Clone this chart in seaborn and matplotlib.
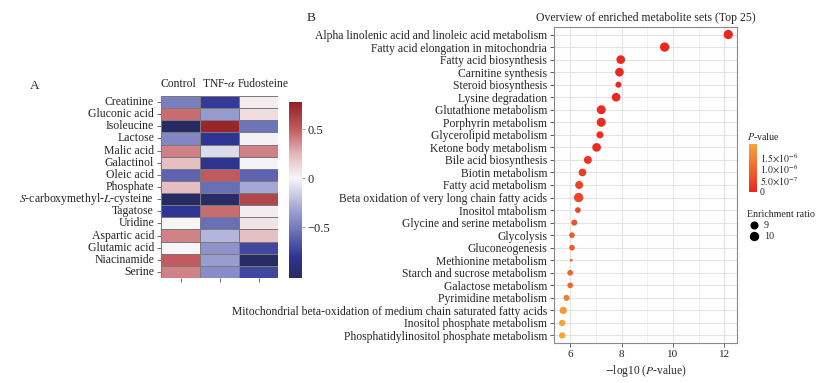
import numpy as np
import pandas as pd
import matplotlib as mpl
import matplotlib.pyplot as plt
import seaborn as sns
from matplotlib.colors import LinearSegmentedColormap, Normalize
from matplotlib.lines import Line2D
from matplotlib.transforms import ScaledTranslation

sns.set_style("white")
plt.rcParams['font.family'] = ['Liberation Serif', 'DejaVu Serif']
plt.rcParams['mathtext.fontset'] = 'stix'
mpl.rcParams['axes.unicode_minus'] = True

# ---- panel A data ----
metabolites = ["Creatinine", "Gluconic acid", "Isoleucine", "Lactose", "Malic acid",
               "Galactinol", "Oleic acid", "Phosphate", "$S$-carboxymethyl-$L$-cysteine",
               "Tagatose", "Uridine", "Aspartic acid", "Glutamic acid", "Niacinamide", "Serine"]
groups = ["Control", r"TNF-$\alpha$", "Fudosteine"]
control = [-0.48, 0.45, -1.00, -0.45, 0.40, 0.22, -0.60, 0.23, -1.00, -0.80, 0.00, 0.40, 0.00, 0.50, 0.40]
tnf = [-0.78, -0.36, 0.75, -0.80, -0.10, -0.82, 0.50, -0.55, -0.98, 0.45, -0.55, -0.25, -0.40, -0.35, -0.42]
fudo = [0.04, 0.10, -0.53, -0.02, 0.40, -0.01, -0.60, -0.30, 0.60, 0.04, 0.07, 0.22, -0.72, -1.00, -0.72]

# ---- panel B data ----
pathways = ["Alpha linolenic acid and linoleic acid metabolism", "Fatty acid elongation in mitochondria",
            "Fatty acid biosynthesis", "Carnitine synthesis", "Steroid biosynthesis", "Lysine degradation",
            "Glutathione metabolism", "Porphyrin metabolism", "Glycerolipid metabolism",
            "Ketone body metabolism", "Bile acid biosynthesis", "Biotin metabolism",
            "Fatty acid metabolism", "Beta oxidation of very long chain fatty acids", "Inositol mtabolism",
            "Glycine and serine metabolism", "Glycolysis", "Gluconeogenesis", "Methionine metabolism",
            "Starch and sucrose metabolism", "Galactose metabolism", "Pyrimidine metabolism",
            "Mitochondrial beta-oxidation of medium chain saturated fatty acids",
            "Inositol phosphate metabolism", "Phosphatidylinositol phosphate metabolism"]
neglogp = [12.16, 9.68, 7.97, 7.92, 7.88, 7.79, 7.21, 7.21, 7.16, 7.03, 6.69, 6.48, 6.35,
           6.33, 6.30, 6.16, 6.07, 6.07, 6.04, 6.00, 6.00, 5.86, 5.73, 5.69, 5.69]
ratio = [11.2, 11.2, 10.6, 10.6, 8.6, 10.6, 10.9, 10.9, 9.3, 10.6, 10.0, 9.8, 10.0,
         11.2, 8.4, 8.6, 8.4, 8.4, 7.1, 8.4, 8.4, 8.6, 9.5, 8.8, 8.8]
size_breaks = [9, 10]
p_ticks = [0, 5e-7, 1e-6, 1.5e-6]
p_ticklabels = ["0", r"$5.0{\times}10^{-7}$", r"$1.0{\times}10^{-6}$", r"$1.5{\times}10^{-6}$"]

fig = plt.figure(figsize=(8.4, 3.83), dpi=100)

# ================= A: heatmap =================
heat = pd.DataFrame({g: v for g, v in zip(groups, [control, tnf, fudo])}, index=metabolites)
vmin, vmax = -1.02, 0.78
cmap_nodes = [(-1.02, "#272a5e"), (-0.8, "#2e3594"), (-0.55, "#6a70b8"), (-0.3, "#a5a8d4"),
              (0.0, "#f8f6f8"), (0.25, "#e4b8bb"), (0.5, "#c25c61"), (0.78, "#932025")]
heat_cmap = LinearSegmentedColormap.from_list(
    "navy_red", [((v - vmin) / (vmax - vmin), c) for v, c in cmap_nodes])
ax_h = fig.add_axes([161 / 840, 1 - 278 / 383, 117 / 840, 182 / 383])
cax_h = fig.add_axes([289 / 840, 1 - 278 / 383, 13 / 840, 176 / 383])
sns.heatmap(heat, ax=ax_h, cbar_ax=cax_h, cmap=heat_cmap, vmin=vmin, vmax=vmax,
            linewidths=0.5, linecolor="#7a7a7a", xticklabels=True, yticklabels=True)
ax_h.tick_params(axis="x", bottom=True, top=False, labelbottom=False, labeltop=True,
                 length=3, width=0.6, color="#555555", labelsize=8.4, pad=1)
ax_h.tick_params(axis="y", left=True, length=3, width=0.6, color="#555555", labelsize=8.5, pad=2)
ax_h.set_xticklabels(groups, rotation=0)
ax_h.set_yticklabels(metabolites, rotation=0)
# nudge the outer column labels apart a little, as in the original layout
xlabs = ax_h.get_xticklabels()
xlabs[0].set_transform(xlabs[0].get_transform() + ScaledTranslation(-2 / 100, 0, fig.dpi_scale_trans))
xlabs[2].set_transform(xlabs[2].get_transform() + ScaledTranslation(5 / 100, 0, fig.dpi_scale_trans))
ax_h.set_xlabel("")
ax_h.set_ylabel("")
cax_h.set_yticks([-0.5, 0, 0.5])
cax_h.set_yticklabels(["\u22120.5", "0", "0.5"])
cax_h.tick_params(length=2, width=0.6, color="#999999", labelsize=9, pad=2)
fig.text(30 / 840, 1 - 86 / 383, "A", fontsize=9.5, va="center")

# ================= B: dot plot =================
enrich = pd.DataFrame({"pathway": pathways, "neglogp": neglogp, "ratio": ratio})
enrich["pvalue"] = 10 ** (-enrich["neglogp"])
p_cmap = LinearSegmentedColormap.from_list("red_orange", ["#ea2820", "#f7a53a"])
p_norm = Normalize(vmin=0, vmax=2.05e-6)
size_range = (3.7, 45.0)
size_norm = (7.07, 11.2)

ax_b = fig.add_axes([554 / 840, 1 - 343 / 383, 183 / 840, 316 / 383])
sns.scatterplot(data=enrich, x="neglogp", y="pathway", hue="pvalue", size="ratio",
                palette=p_cmap, hue_norm=p_norm, sizes=size_range, size_norm=size_norm,
                linewidth=0, alpha=1, legend=False, ax=ax_b, zorder=3)
ax_b.set_xlim(5.37, 12.5)
ax_b.set_ylim(len(pathways) - 0.4, -0.6)
ax_b.set_xticks([6, 8, 10, 12])
ax_b.set_xticks([7, 9, 11], minor=True)
ax_b.grid(True, which="major", color="#e3e3e3", linewidth=0.8)
ax_b.grid(True, which="minor", axis="x", color="#eeeeee", linewidth=0.6)
for s in ax_b.spines.values():
    s.set_color("#8a8a8a")
    s.set_linewidth(0.8)
ax_b.tick_params(axis="y", which="major", length=3, width=0.6, color="#444444",
                 labelsize=8.4, pad=2, left=True)
ax_b.tick_params(axis="x", which="major", length=3, width=0.6, color="#444444",
                 labelsize=8, pad=2, bottom=True)
ax_b.tick_params(axis="x", which="minor", length=0)
ax_b.set_ylabel("")
ax_b.set_xlabel(r"$-$log10 ($P$-value)", fontsize=8.3, labelpad=3)
ax_b.set_title("Overview of enriched metabolite sets (Top 25)", fontsize=8.5, pad=4)
fig.text(307 / 840, 1 - 18 / 383, "B", fontsize=9.5, va="center")

# P-value colorbar
cax_p = fig.add_axes([749 / 840, 1 - 192 / 383, 8 / 840, 48 / 383])
cb = fig.colorbar(mpl.cm.ScalarMappable(norm=p_norm, cmap=p_cmap), cax=cax_p)
cb.outline.set_visible(False)
cb.set_ticks(p_ticks)
cb.set_ticklabels(p_ticklabels)
cax_p.tick_params(length=0, labelsize=7, pad=2)
fig.text(747 / 840, 1 - 137 / 383, r"$P$-value", fontsize=7.2, va="center")

# Enrichment ratio size legend, using the same size scale as the dots
def dot_size(v):
    t = (v - size_norm[0]) / (size_norm[1] - size_norm[0])
    return size_range[0] + t * (size_range[1] - size_range[0])

handles = [Line2D([], [], marker="o", linestyle="", color="black",
                  markersize=np.sqrt(dot_size(v))) for v in size_breaks]
leg = fig.legend(handles, [str(v) for v in size_breaks], title="Enrichment ratio",
                 loc="upper left", bbox_to_anchor=(742 / 840, 1 - 205 / 383), frameon=False,
                 fontsize=7.2, title_fontsize=7.2, handletextpad=0.3, labelspacing=0.2,
                 borderpad=0, handlelength=1.4)
leg._legend_box.align = "left"

plt.savefig("out.png", dpi=100)
